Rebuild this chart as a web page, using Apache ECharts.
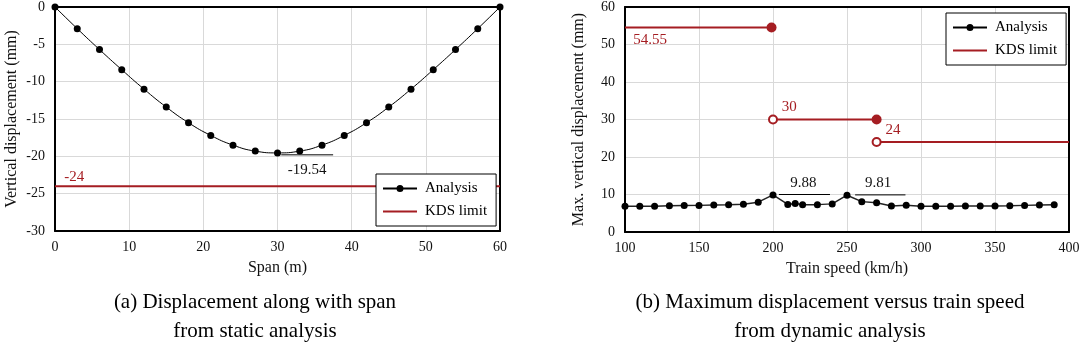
<!DOCTYPE html>
<html>
<head>
<meta charset="utf-8">
<script src="https://cdn.jsdelivr.net/npm/echarts@6/dist/echarts.min.js"></script>
<style>
  html, body { margin: 0; padding: 0; background: #fff; }
  #chart { width: 1084px; height: 346px; }
</style>
</head>
<body>
<div id="chart"></div>
<script>
// ---- Data: (a) static analysis ----
const spanX = [0, 3, 6, 9, 12, 15, 18, 21, 24, 27, 30, 33, 36, 39, 42, 45, 48, 51, 54, 57, 60];
const staticDisp = [0, -2.9, -5.7, -8.4, -11.0, -13.4, -15.5, -17.2, -18.5, -19.3, -19.54,
                    -19.3, -18.5, -17.2, -15.5, -13.4, -11.0, -8.4, -5.7, -2.9, 0];
const staticLimit = -24;
const spanTicks = { min: 0, max: 60, interval: 10 };
const staticTicks = { min: -30, max: 0, interval: 5 };

// ---- Data: (b) dynamic analysis ----
const speeds = [100, 110, 120, 130, 140, 150, 160, 170, 180, 190, 200, 210, 215, 220, 230, 240,
                250, 260, 270, 280, 290, 300, 310, 320, 330, 340, 350, 360, 370, 380, 390];
const dynDisp = [6.9, 6.9, 6.85, 7.0, 7.05, 7.1, 7.2, 7.25, 7.4, 7.95, 9.88, 7.35, 7.6, 7.3, 7.3, 7.5,
                 9.81, 8.1, 7.8, 6.95, 7.15, 6.85, 6.85, 6.85, 6.95, 6.95, 6.95, 7.0, 7.1, 7.2, 7.25];
const limitStart = [100, 200, 270];
const limitEnd = [199, 270, 400];
const limitValue = [54.55, 30, 24];
const speedTicks = { min: 100, max: 400, interval: 50 };
const dynTicks = { min: 0, max: 60, interval: 10 };

// ---- Annotations (text, x, y in data units) ----
const leftNotes = [['-19.54', 34, -21.8]];
const leftNoteBars = [[30.5, 37.5, -19.8]];
const leftLimitLabels = [['-24', 2.6, -22.8]];
const rightNotes = [['9.88', 220.5, 13.1], ['9.81', 271, 13.1]];
const rightNoteBars = [[204, 238.5, 10.0], [255.5, 289.5, 9.9]];
const rightLimitLabels = [['54.55', 117, 51.3], ['30', 211, 33.3], ['24', 281, 27.3]];

const captionA = ['(a) Displacement along with span', 'from static analysis'];
const captionB = ['(b) Maximum displacement versus train speed', 'from dynamic analysis'];

// ---- Styles ----
const FONT = '"Liberation Serif", "Times New Roman", serif';
const RED = '#a51d22';
const INK = '#111';
const GRIDC = '#d9d9d9';
const ICON_ANALYSIS = 'path://M0,2.5h34v2h-34z M13.5,3.5a3.5,3.5 0 1,1 7,0a3.5,3.5 0 1,1 -7,0z';
const ICON_LIMIT = 'path://M0,0h34v2h-34z';

function mainX(grid, t, name) {
  return {
    type: 'value', gridIndex: grid, min: t.min, max: t.max, interval: t.interval,
    name: name, nameLocation: 'middle', nameGap: 29,
    nameTextStyle: { fontFamily: FONT, fontSize: 16, color: INK },
    axisLine: { show: true, onZero: false, lineStyle: { color: '#000', width: 2 } },
    axisTick: { show: false },
    axisLabel: { fontFamily: FONT, fontSize: 14, color: INK, margin: 9 },
    splitLine: { show: true, lineStyle: { color: GRIDC, width: 1 } }
  };
}
function mainY(grid, t, name, gap) {
  return {
    type: 'value', gridIndex: grid, min: t.min, max: t.max, interval: t.interval,
    name: name, nameLocation: 'middle', nameGap: gap,
    nameTextStyle: { fontFamily: FONT, fontSize: 16, color: INK },
    axisLine: { show: true, onZero: false, lineStyle: { color: '#000', width: 2 } },
    axisTick: { show: false },
    axisLabel: { fontFamily: FONT, fontSize: 14, color: INK, margin: 10 },
    splitLine: { show: true, lineStyle: { color: GRIDC, width: 1 } }
  };
}
function frameAxis(grid, t, pos) {
  return {
    type: 'value', gridIndex: grid, min: t.min, max: t.max, position: pos,
    axisLine: { show: true, onZero: false, lineStyle: { color: '#000', width: 2 } },
    axisTick: { show: false }, axisLabel: { show: false }, splitLine: { show: false }
  };
}

function textSeries(list, xi, yi, color) {
  return {
    type: 'scatter', xAxisIndex: xi, yAxisIndex: yi, symbolSize: 0, silent: true, z: 5,
    itemStyle: { opacity: 1 },
    data: list.map(d => ({ value: [d[1], d[2]], label: { formatter: d[0] } })),
    label: { show: true, position: 'inside', fontFamily: FONT, fontSize: 15, color: color }
  };
}
function barSeries(list, xi, yi) {
  return list.map(b => ({
    type: 'line', xAxisIndex: xi, yAxisIndex: yi, symbol: 'none', silent: true,
    lineStyle: { color: '#000', width: 1 },
    data: [[b[0], b[2]], [b[1], b[2]]]
  }));
}

const series = [
  {
    name: 'Analysis', type: 'line', xAxisIndex: 0, yAxisIndex: 0,
    data: spanX.map((x, i) => [x, staticDisp[i]]),
    smooth: true, symbol: 'circle', symbolSize: 7,
    itemStyle: { color: '#000' }, lineStyle: { color: '#000', width: 1 }, z: 4
  },
  {
    name: 'KDS limit', type: 'line', xAxisIndex: 0, yAxisIndex: 0,
    data: [[spanTicks.min, staticLimit], [spanTicks.max, staticLimit]],
    symbol: 'none', itemStyle: { color: RED }, lineStyle: { color: RED, width: 2 }, z: 3
  },
  textSeries(leftNotes, 0, 0, INK),
  textSeries(leftLimitLabels, 0, 0, RED),
  ...barSeries(leftNoteBars, 0, 0),
  {
    name: 'Analysis', type: 'line', xAxisIndex: 2, yAxisIndex: 2,
    data: speeds.map((x, i) => [x, dynDisp[i]]),
    symbol: 'circle', symbolSize: 7,
    itemStyle: { color: '#000' }, lineStyle: { color: '#222', width: 1.5 }, z: 4
  },
  ...limitValue.map((v, i) => ({
    name: 'KDS limit', type: 'line', xAxisIndex: 2, yAxisIndex: 2,
    data: [[limitStart[i], v], [limitEnd[i], v]],
    symbol: 'none', itemStyle: { color: RED }, lineStyle: { color: RED, width: 2 }, z: 3
  })),
  {
    type: 'scatter', xAxisIndex: 2, yAxisIndex: 2, symbol: 'circle', symbolSize: 10, silent: true,
    itemStyle: { color: RED, opacity: 1 }, z: 4,
    data: limitValue.slice(0, 2).map((v, i) => [limitEnd[i], v])
  },
  {
    type: 'scatter', xAxisIndex: 2, yAxisIndex: 2, symbol: 'emptyCircle', symbolSize: 8, silent: true,
    itemStyle: { color: RED, borderColor: RED, borderWidth: 1.5, opacity: 1 }, z: 6,
    data: limitValue.slice(1).map((v, i) => [limitStart[i + 1], v])
  },
  textSeries(rightNotes, 2, 2, INK),
  textSeries(rightLimitLabels, 2, 2, RED),
  ...barSeries(rightNoteBars, 2, 2)
];

const legendBase = {
  orient: 'vertical',
  data: [{ name: 'Analysis', icon: ICON_ANALYSIS }, { name: 'KDS limit', icon: ICON_LIMIT }],
  symbolKeepAspect: true,
  backgroundColor: '#fff', borderColor: '#000', borderWidth: 1,
  padding: [7, 9, 7, 7], itemGap: 8, itemWidth: 34, itemHeight: 7,
  textStyle: { fontFamily: FONT, fontSize: 15, color: '#000', lineHeight: 14, padding: [0, 0, 0, 3] },
  selectedMode: false
};

const option = {
  animation: false,
  backgroundColor: '#fff',
  grid: [
    { left: 55, top: 7, width: 445, height: 224 },
    { left: 625, top: 7, width: 444, height: 225 }
  ],
  xAxis: [
    mainX(0, spanTicks, 'Span (m)'),
    frameAxis(0, spanTicks, 'top'),
    mainX(1, speedTicks, 'Train speed (km/h)'),
    frameAxis(1, speedTicks, 'top')
  ],
  yAxis: [
    mainY(0, staticTicks, 'Vertical displacement (mm)', 35),
    frameAxis(0, staticTicks, 'right'),
    mainY(1, dynTicks, 'Max. vertical displacement (mm)', 38),
    frameAxis(1, dynTicks, 'right')
  ],
  legend: [
    Object.assign({ left: 376, top: 174 }, legendBase),
    Object.assign({ left: 946, top: 13 }, legendBase)
  ],
  graphic: [
    { type: 'text', x: 255, y: 288, style: { text: captionA.join('\n'), align: 'center',
      font: '21px ' + FONT, lineHeight: 29, fill: '#000' } },
    { type: 'text', x: 830, y: 288, style: { text: captionB.join('\n'), align: 'center',
      font: '21px ' + FONT, lineHeight: 29, fill: '#000' } }
  ],
  series: series
};

const chart = echarts.init(document.getElementById('chart'), null, { renderer: 'canvas' });
chart.setOption(option);
</script>
</body>
</html>
